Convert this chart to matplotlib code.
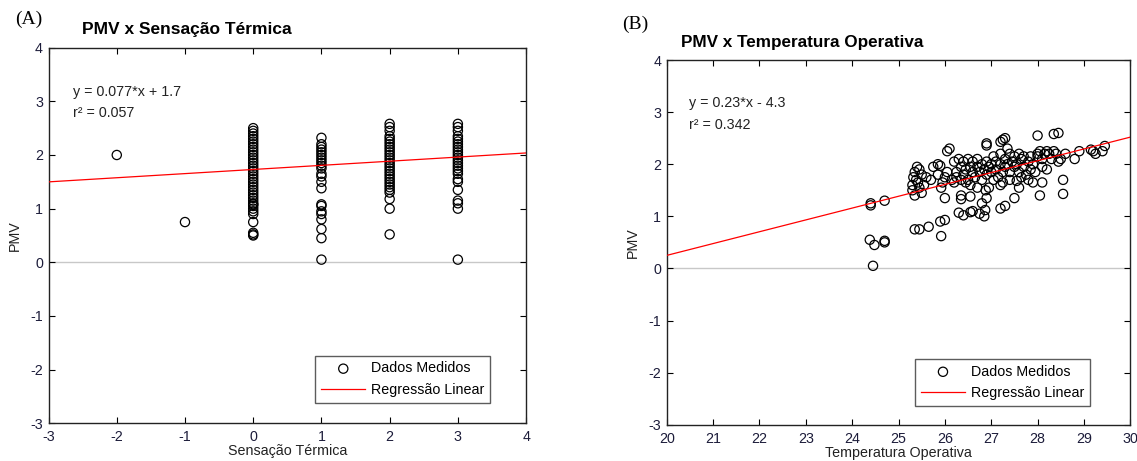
from matplotlib import pyplot as plt

plt.rcParams['font.family'] = ['Liberation Sans', 'DejaVu Sans']
plt.rcParams['axes.unicode_minus'] = False

# ---- dados (A): sensacao termica x PMV ----
sens_cols = [-2, -1, 0, 1, 2, 3]
pmv_cols = [
    [2.0],
    [0.75],
    [0.5, 0.52, 0.55, 0.75, 0.9, 0.95, 1.0, 1.05, 1.08, 1.1, 1.15, 1.2, 1.25, 1.3,
     1.35, 1.4, 1.45, 1.5, 1.55, 1.6, 1.65, 1.7, 1.75, 1.8, 1.85, 1.9, 1.95, 2.0,
     2.05, 2.1, 2.15, 2.2, 2.25, 2.3, 2.35, 2.4, 2.45, 2.5],
    [0.05, 0.45, 0.62, 0.8, 0.9, 0.95, 1.05, 1.08, 1.38, 1.5, 1.6, 1.65, 1.75, 1.8,
     1.85, 1.9, 1.95, 2.0, 2.05, 2.1, 2.15, 2.2, 2.32],
    [0.52, 1.0, 1.18, 1.3, 1.35, 1.4, 1.45, 1.5, 1.55, 1.6, 1.65, 1.7, 1.75, 1.8,
     1.85, 1.9, 1.95, 2.0, 2.05, 2.1, 2.15, 2.2, 2.25, 2.3, 2.35, 2.45, 2.52, 2.58],
    [0.05, 1.0, 1.1, 1.15, 1.35, 1.5, 1.55, 1.65, 1.7, 1.75, 1.8, 1.85, 1.9, 1.95,
     2.0, 2.05, 2.1, 2.15, 2.2, 2.25, 2.3, 2.35, 2.45, 2.52, 2.58],
]
reg_a = (0.077, 1.73)  # inclinacao, intercepto

# ---- dados (B): temperatura operativa x PMV ----
pontos_b = [
    (24.4, 1.25), (24.4, 1.21), (24.7, 1.3), (24.38, 0.55), (24.48, 0.45), (24.7, 0.53),
    (24.7, 0.5), (24.45, 0.05), (25.35, 0.75), (25.45, 0.75), (25.65, 0.8), (25.9, 0.9),
    (26.0, 0.93), (25.92, 0.62), (26.05, 2.25), (26.1, 2.3), (26.0, 1.35), (26.35, 1.4),
    (26.35, 1.33), (26.55, 1.38), (26.3, 1.07), (26.4, 1.02), (26.55, 1.08), (26.6, 1.1),
    (26.75, 1.05), (26.85, 1.0), (26.87, 1.12), (26.8, 1.25), (26.9, 1.35), (26.88, 1.5),
    (26.95, 1.55), (27.2, 1.15), (27.3, 1.2), (27.5, 1.35), (27.2, 1.6), (27.4, 1.7),
    (27.6, 1.55), (27.55, 1.68), (27.3, 2.5), (27.25, 2.47), (27.2, 2.43), (26.9, 2.4),
    (26.9, 2.36), (27.35, 2.3), (28.0, 2.55), (28.35, 2.58), (28.45, 2.6), (28.05, 1.4),
    (28.55, 1.43), (28.55, 1.7), (28.1, 1.65), (27.9, 1.65), (29.2, 2.25), (29.25, 2.2),
    (29.4, 2.25), (29.45, 2.35), (28.9, 2.25), (28.8, 2.1), (29.15, 2.28), (28.6, 2.2),
    (28.5, 2.1),
    (25.3, 1.5), (25.3, 1.6), (25.32, 1.75), (25.35, 1.85), (25.35, 1.4), (25.4, 1.95),
    (25.42, 1.65), (25.45, 1.9), (25.45, 1.55), (25.5, 1.8), (25.5, 1.45), (25.38, 1.7),
    (25.55, 1.6), (25.6, 1.75),
    (25.7, 1.7), (25.75, 1.95), (25.85, 2.0), (25.9, 1.97), (25.85, 1.8), (25.95, 1.65),
    (25.92, 1.55), (26.0, 1.75), (26.05, 1.85), (26.15, 1.7), (26.2, 1.65), (26.25, 1.85),
    (26.2, 2.05), (26.3, 2.1), (26.25, 1.75),
    (26.35, 1.95), (26.4, 1.8), (26.4, 2.05), (26.45, 1.9), (26.5, 2.1), (26.5, 1.7),
    (26.55, 1.95), (26.6, 1.85), (26.6, 2.05), (26.65, 1.75), (26.7, 1.95), (26.7, 2.1),
    (26.75, 1.85), (26.8, 2.0), (26.8, 1.7), (26.85, 1.9), (26.9, 2.05), (26.9, 1.8),
    (26.95, 1.95), (26.45, 1.65), (26.55, 1.6), (26.7, 1.55), (26.35, 1.7),
    (27.0, 2.0), (27.0, 1.85), (27.05, 2.15), (27.1, 1.9), (27.1, 2.05), (27.15, 1.75),
    (27.2, 2.0), (27.2, 2.2), (27.25, 1.85), (27.3, 2.1), (27.3, 1.95), (27.35, 2.0),
    (27.4, 2.2), (27.4, 1.85), (27.45, 2.05), (27.5, 1.95), (27.5, 2.15), (27.05, 1.7),
    (27.25, 1.65),
    (27.55, 2.0), (27.6, 2.2), (27.6, 1.85), (27.65, 2.1), (27.7, 1.95), (27.7, 2.15),
    (27.75, 1.8), (27.8, 2.05), (27.85, 2.15), (27.85, 1.9), (27.9, 2.0), (27.95, 1.85),
    (27.65, 1.75), (27.8, 1.7),
    (28.0, 2.2), (28.0, 2.15), (28.05, 2.25), (28.1, 1.95), (28.15, 2.2), (28.2, 2.25),
    (28.25, 2.2), (28.3, 2.1), (28.35, 2.25), (28.4, 2.2), (28.45, 2.05), (28.1, 2.1),
    (28.2, 1.9),
]
reg_b = (0.227, -4.29)

tick_color = '#1c1c3a'
fs = 10.3

fig = plt.figure(figsize=(11.37, 4.61), dpi=100)
axA = fig.add_axes([0.0427, 0.0818, 0.42, 0.8148])
axB = fig.add_axes([0.5864, 0.0787, 0.4077, 0.7911])


def estilo(ax, xlim, xlabel):
    ax.set_xlim(*xlim)
    ax.set_ylim(-3, 4)
    ax.set_xticks(range(xlim[0], xlim[1] + 1))
    ax.set_yticks(range(-3, 5))
    ax.tick_params(direction='in', top=True, right=True, length=4, width=0.8,
                   labelsize=fs, labelcolor=tick_color)
    ax.tick_params(axis='x', pad=5)
    ax.tick_params(axis='y', pad=4)
    for s in ax.spines.values():
        s.set_linewidth(1.0)
        s.set_color('#222222')
    ax.set_xlabel(xlabel, fontsize=fs, color='#222222', labelpad=0)
    ax.set_ylabel('PMV', fontsize=fs, color='#222222', labelpad=6)
    ax.axhline(0, color='#c8c8c8', lw=1.0, zorder=0)


# (A)
xs = []
ys = []
for sx, col in zip(sens_cols, pmv_cols):
    xs += [sx] * len(col)
    ys += col
axA.scatter(xs, ys, s=44, facecolors='none', edgecolors='black', linewidths=0.9,
            label='Dados Medidos', zorder=3)
xl = [-3, 4]
axA.plot(xl, [reg_a[0] * v + reg_a[1] for v in xl], color='red', lw=0.9,
         label='Regressão Linear', zorder=4)
estilo(axA, (-3, 4), 'Sensação Térmica')
axA.text(0.051, 0.882, 'y = 0.077*x + 1.7', transform=axA.transAxes, fontsize=fs,
         va='center', color='#222222')
axA.text(0.051, 0.826, 'r² = 0.057', transform=axA.transAxes, fontsize=fs,
         va='center', color='#222222')
legA = axA.legend(loc='lower right', bbox_to_anchor=(0.925, 0.054), fontsize=fs,
                  fancybox=False, handlelength=3.1, handletextpad=0.4,
                  borderpad=0.4, labelspacing=0.55, borderaxespad=0)
legA.get_frame().set_edgecolor('#333333')
legA.get_frame().set_linewidth(1.0)

# (B)
temp_b = [p[0] for p in pontos_b]
pmv_b = [p[1] for p in pontos_b]
axB.scatter(temp_b, pmv_b, s=44, facecolors='none', edgecolors='black', linewidths=0.9,
            label='Dados Medidos', zorder=3)
xl = [20, 30]
axB.plot(xl, [reg_b[0] * v + reg_b[1] for v in xl], color='red', lw=0.9,
         label='Regressão Linear', zorder=4)
estilo(axB, (20, 30), 'Temperatura Operativa')
axB.text(0.048, 0.882, 'y = 0.23*x - 4.3', transform=axB.transAxes, fontsize=fs,
         va='center', color='#222222')
axB.text(0.048, 0.822, 'r² = 0.342', transform=axB.transAxes, fontsize=fs,
         va='center', color='#222222')
legB = axB.legend(loc='lower right', bbox_to_anchor=(0.913, 0.051), fontsize=fs,
                  fancybox=False, handlelength=3.1, handletextpad=0.4,
                  borderpad=0.4, labelspacing=0.55, borderaxespad=0)
legB.get_frame().set_edgecolor('#333333')
legB.get_frame().set_linewidth(1.0)

# titulos
fig.text(0.0721, 0.935, 'PMV x Sensação Térmica', fontsize=12.5, fontweight='bold',
         va='center')
fig.text(0.599, 0.907, 'PMV x Temperatura Operativa', fontsize=12.3, fontweight='bold',
         va='center')
fig.text(0.013, 0.957, '(A)', fontsize=14, family='Liberation Serif', va='center')
fig.text(0.547, 0.948, '(B)', fontsize=14, family='Liberation Serif', va='center')

fig.savefig('out.png', dpi=100)
